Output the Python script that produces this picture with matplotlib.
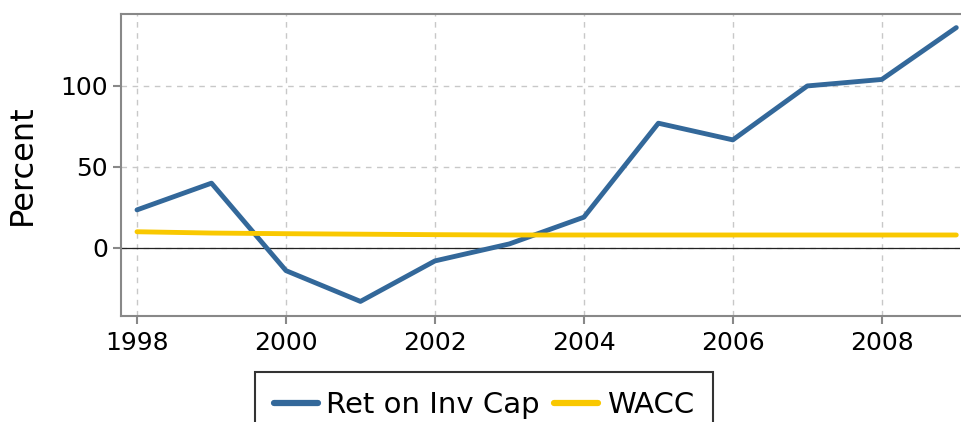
import matplotlib
matplotlib.use("Agg")
import matplotlib.pyplot as plt

years = [1998, 1999, 2000, 2001, 2002, 2003, 2004, 2005, 2006, 2007, 2008, 2009]
roic = [23.5, 40, -14, -33, -8, 2.5, 19, 77, 66.7, 100, 104, 136]
wacc = [10, 9.2, 8.8, 8.5, 8.2, 8.0, 8.0, 8.0, 8.0, 8.0, 8.0, 8.0]
xticks = [1998, 2000, 2002, 2004, 2006, 2008]
yticks = [0, 50, 100]

plt.rcParams['font.family'] = ['DejaVu Sans']
fig = plt.figure(figsize=(9.61, 4.22), dpi=100)
ax = fig.add_axes([121/961, 1-316/422, (960-121)/961, (316-14)/422])

ax.plot(years, roic, color='#33689a', lw=3.5, label='Ret on Inv Cap', solid_capstyle='round', zorder=3)
ax.plot(years, wacc, color='#f9c800', lw=3.5, label='WACC', solid_capstyle='round', zorder=3)
ax.axhline(0, color='#222222', lw=0.9, zorder=2)

ax.set_xlim(1997.785, 2009.05)
ax.set_ylim(-42, 144.4)
ax.set_xticks(xticks)
ax.set_yticks(yticks)
ax.grid(True, ls=(0, (4, 4)), color='#c8c8c8', lw=1)
for s in ['left', 'bottom', 'top']:
    ax.spines[s].set_color('#888888')
    ax.spines[s].set_linewidth(1.5)
ax.spines['right'].set_visible(False)
ax.tick_params(colors='#888888', labelcolor='black', labelsize=18, length=6, width=1.5)
ax.tick_params(axis='x', pad=5)
ax.set_ylabel('Percent', fontsize=23, labelpad=16)

leg = fig.legend(loc='upper center', bbox_to_anchor=(484/961, 1-372/422), ncol=2,
                 fontsize=21, frameon=True, fancybox=False, edgecolor='black',
                 handlelength=1.5, columnspacing=0.5, handletextpad=0.3, borderpad=0.65,
                 borderaxespad=0)
leg.get_frame().set_linewidth(1.5)
for l in leg.get_lines():
    l.set_linewidth(4.5)

fig.savefig('out.png', dpi=100)
